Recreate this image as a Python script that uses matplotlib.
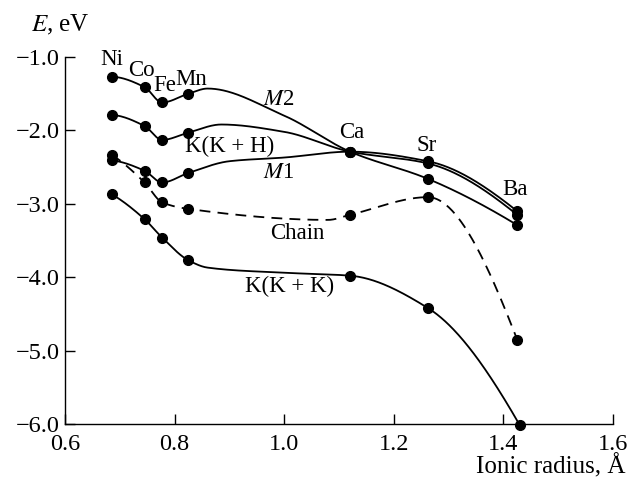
import numpy as np
import matplotlib
matplotlib.use("Agg")
import matplotlib.pyplot as plt

plt.rcParams['font.family'] = ['Liberation Serif', 'DejaVu Serif']
plt.rcParams['mathtext.fontset'] = 'stix'

# =========================
# DATA
# =========================
ions = ["Ni", "Co", "Fe", "Mn", "Ca", "Sr", "Ba"]
radius = [0.685, 0.745, 0.777, 0.825, 1.12, 1.262, 1.425]
radius_kkk = [0.685, 0.745, 0.777, 0.825, 1.12, 1.262, 1.43]

m2_E = [-1.27, -1.41, -1.62, -1.50, -2.29, -2.66, -3.29]
kkh_E = [-1.79, -1.94, -2.13, -2.03, -2.29, -2.45, -3.15]
m1_E = [-2.41, -2.55, -2.71, -2.58, -2.29, -2.42, -3.10]
chain_E = [-2.33, -2.71, -2.98, -3.07, -3.15, -2.91, -4.85]
kkk_E = [-2.87, -3.21, -3.46, -3.77, -3.98, -4.42, -6.02]

m2_curve_x, m2_curve_E = [0.86, 1.0], [-1.43, -1.80]
kkh_curve_x, kkh_curve_E = [0.885, 1.0], [-1.92, -2.02]
m1_curve_x, m1_curve_E = [0.90, 1.0], [-2.42, -2.37]
chain_curve_x, chain_curve_E = [1.08], [-3.22]
kkk_curve_x, kkk_curve_E = [0.86, 1.0], [-3.87, -3.94]

ion_label_pos = {"Ni": (0.685, -1.04), "Co": (0.74, -1.19), "Fe": (0.781, -1.39),
                 "Mn": (0.83, -1.30), "Ca": (1.123, -2.03), "Sr": (1.26, -2.20),
                 "Ba": (1.421, -2.80)}


def pchip(x, y, xs):
    x = np.asarray(x, float)
    y = np.asarray(y, float)
    h = np.diff(x)
    d = np.diff(y) / h
    n = len(x)
    m = np.zeros(n)
    for k in range(1, n - 1):
        if d[k - 1] * d[k] > 0:
            w1 = 2 * h[k] + h[k - 1]
            w2 = h[k] + 2 * h[k - 1]
            m[k] = (w1 + w2) / (w1 / d[k - 1] + w2 / d[k])

    def edge(h0, h1, d0, d1):
        s = ((2 * h0 + h1) * d0 - h0 * d1) / (h0 + h1)
        if np.sign(s) != np.sign(d0):
            s = 0.0
        elif np.sign(d0) != np.sign(d1) and abs(s) > abs(3 * d0):
            s = 3 * d0
        return s

    m[0] = edge(h[0], h[1], d[0], d[1])
    m[-1] = edge(h[-1], h[-2], d[-1], d[-2])
    idx = np.clip(np.searchsorted(x, xs) - 1, 0, n - 2)
    t = (xs - x[idx]) / h[idx]
    h00 = 2 * t**3 - 3 * t**2 + 1
    h10 = t**3 - 2 * t**2 + t
    h01 = -2 * t**3 + 3 * t**2
    h11 = t**3 - t**2
    return h00 * y[idx] + h10 * h[idx] * m[idx] + h01 * y[idx + 1] + h11 * h[idx] * m[idx + 1]


def draw_curve(ax, xm, ym, xc, yc, ls="-"):
    px = np.array(list(xm) + list(xc))
    py = np.array(list(ym) + list(yc))
    order = np.argsort(px)
    px, py = px[order], py[order]
    xs = np.linspace(px[0], px[-1], 400)
    line, = ax.plot(xs, pchip(px, py, xs), color="black", lw=1.3, ls=ls,
                    clip_on=False)
    if ls == "--":
        line.set_dashes((6, 4))
    ax.plot(xm, ym, "o", color="black", ms=7, clip_on=False, zorder=5)


fig = plt.figure(figsize=(6.32, 4.79), dpi=100)
ax = fig.add_axes([0.103, 0.115, 0.867, 0.766])

draw_curve(ax, radius, m2_E, m2_curve_x, m2_curve_E)
draw_curve(ax, radius, kkh_E, kkh_curve_x, kkh_curve_E)
draw_curve(ax, radius, m1_E, m1_curve_x, m1_curve_E)
draw_curve(ax, radius, chain_E, chain_curve_x, chain_curve_E, ls="--")
draw_curve(ax, radius_kkk, kkk_E, kkk_curve_x, kkk_curve_E)

# labels
fs = 16.5
for ion in ions:
    lx, ly = ion_label_pos[ion]
    ax.text(lx, ly, ion, fontsize=fs, ha="center", va="center")
ax.text(0.99, -1.58, "$M$2", fontsize=fs, ha="center", va="center")
ax.text(0.90, -2.22, "K(K + H)", fontsize=fs, ha="center", va="center")
ax.text(0.99, -2.58, "$M$1", fontsize=fs, ha="center", va="center")
ax.text(1.023, -3.40, "Chain", fontsize=fs, ha="center", va="center")
ax.text(1.01, -4.13, "K(K + K)", fontsize=fs, ha="center", va="center")

# axes
ax.set_xlim(0.6, 1.6)
ax.set_ylim(-6.0, -1.0)
ax.set_xticks([0.6, 0.8, 1.0, 1.2, 1.4, 1.6])
ax.set_yticks([-1.0, -2.0, -3.0, -4.0, -5.0, -6.0])
ax.xaxis.set_major_formatter(matplotlib.ticker.FormatStrFormatter("%.1f"))
ax.yaxis.set_major_formatter(matplotlib.ticker.FuncFormatter(lambda v, p: f"\u2212{abs(v):.1f}"))
ax.tick_params(direction="in", length=7, width=1, labelsize=17.5)
ax.tick_params(axis="y", pad=4)
ax.tick_params(axis="x", pad=7.5)
ax.spines["top"].set_visible(False)
ax.spines["right"].set_visible(False)
for s in ("left", "bottom"):
    ax.spines[s].set_linewidth(1)

fig.text(60 / 632, 1 - 25 / 479, "$E$, eV", fontsize=18, ha="center", va="center")
fig.text(626 / 632, 1 - 466 / 479, "Ionic radius, Å", fontsize=18, ha="right", va="center")

fig.savefig("out.png", dpi=100)
